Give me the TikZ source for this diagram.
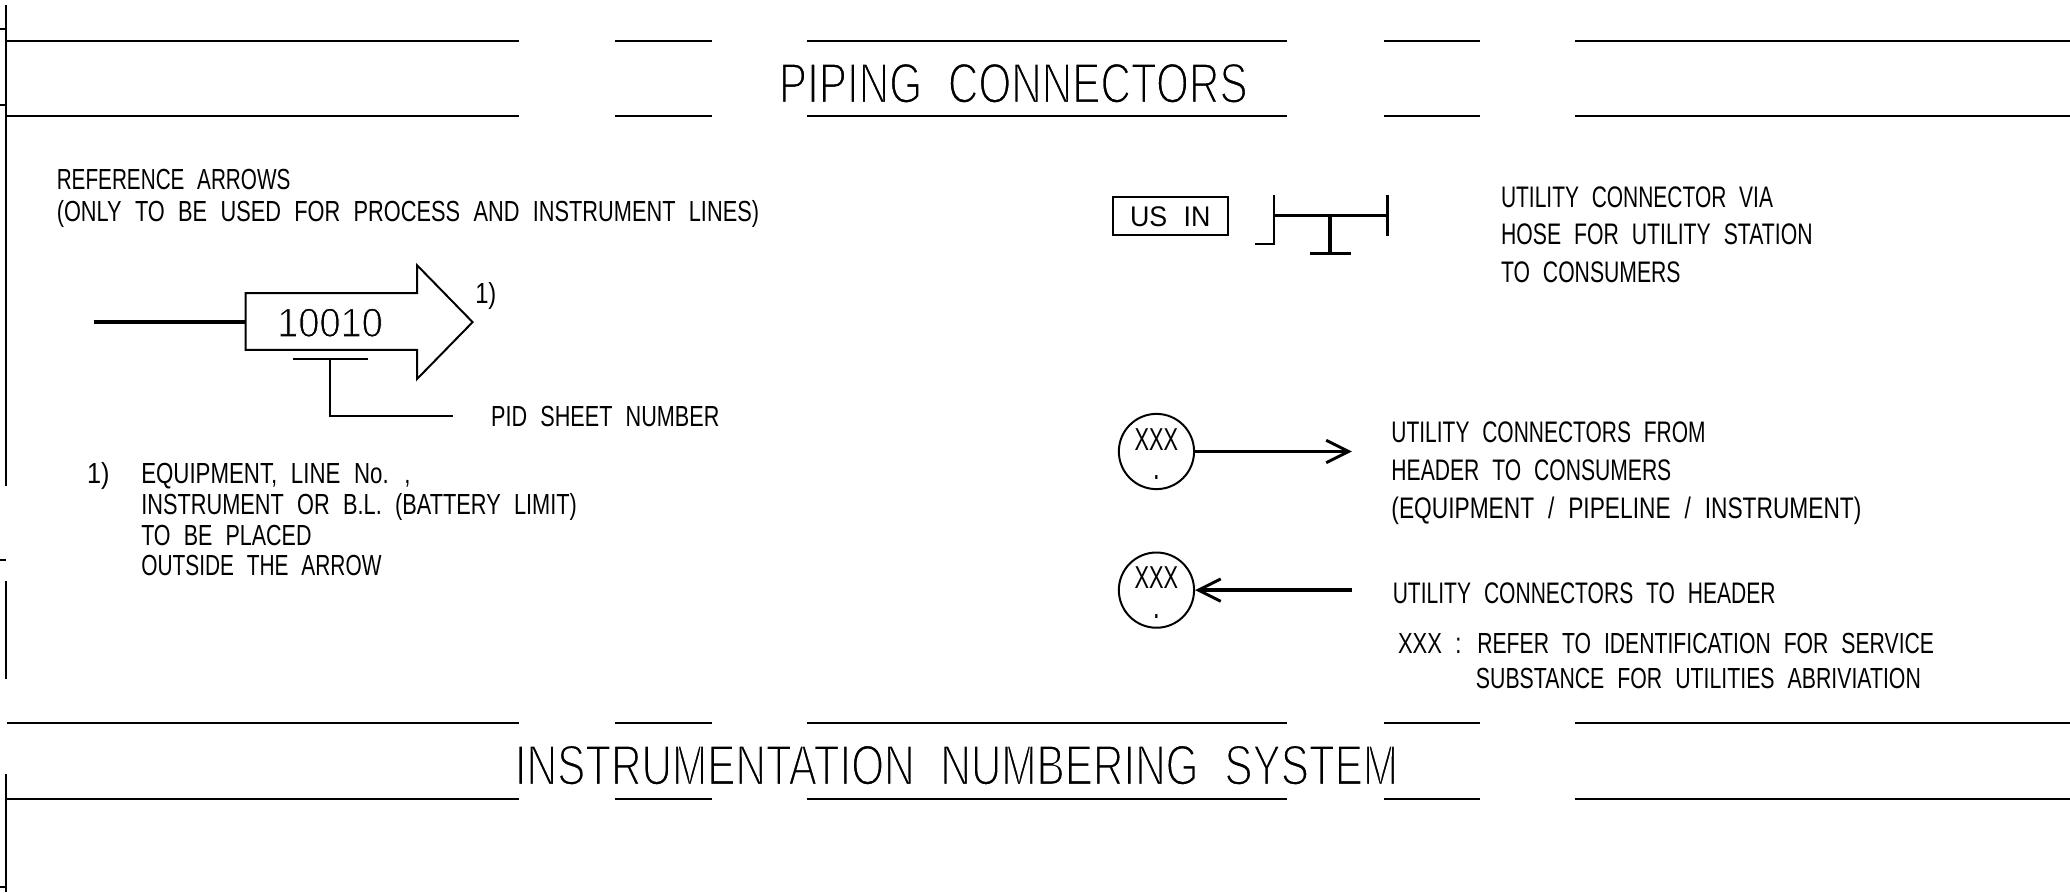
\documentclass[tikz,border=0pt]{standalone}
\usepackage{fontspec}
\usepackage{graphicx}
\usetikzlibrary{arrows.meta}
\setmainfont[WordSpace=2.2]{Liberation Sans}
\tikzset{
  x=1pt,y=-1pt,
  thinline/.style={line width=1.5pt,line cap=butt},
  thickline/.style={line width=2.5pt},
  lbl/.style={anchor=base west,inner sep=0pt,outer sep=0pt},
  barb/.style={-{Straight Barb[length=17pt,width=17pt,line width=2.2pt]}},
  ringnode/.style={circle,draw,line width=1.5pt,minimum size=57pt,inner sep=0pt},
}
\newcommand{\lab}[6][22]{% size, name, x0, x1, yc, text
  \pgfmathsetmacro{\labwd}{#4-#3}%
  \pgfmathsetmacro{\labyb}{#5+0.358*#1}%
  \node[lbl] (#2) at (#3,\labyb) {\fontsize{#1}{#1}\selectfont\resizebox{\labwd pt}{\height}{#6}};
}
\newcommand{\thintext}[2][1.3]{\special{pdf:code 2 Tr 1 1 1 RG #1 w}#2\special{pdf:code 0 Tr 0 0 0 RG 1 w}}
\begin{document}
\begin{tikzpicture}
\useasboundingbox (0,0) rectangle (1568,675.7);
% rule bands
\foreach \yy in {31.06,87.87,547.6,605.2}{
  \foreach \a/\b in {5/393,466/539,611/975,1048/1121,1193/1568}
    \draw[thinline] (\a,\yy) -- (\b,\yy);
}
% left margin
\draw[thinline] (4.5,4) -- (4.5,368);
\draw[thinline] (4.5,440) -- (4.5,514);
\draw[thinline] (4.5,586) -- (4.5,675.7);
\draw[thinline] (0,22) -- (4.5,22);
\draw[thinline] (0,79.5) -- (4.5,79.5);
\draw[thinline] (0,424) -- (4.5,424);
\draw[thinline] (0,672) -- (4.5,672);
% titles
\lab[43]{t1}{590}{945}{62.5}{\thintext{PIPING CONNECTORS}}
\lab[43]{t2}{390}{1059}{579}{\thintext{INSTRUMENTATION NUMBERING SYSTEM}}
% left block
\lab{a1}{43}{220}{136}{REFERENCE ARROWS}
\lab{a2}{43}{575}{160}{(ONLY TO BE USED FOR PROCESS AND INSTRUMENT LINES)}
\draw[thinline,line join=miter] (186,222) -- (316,222) -- (316,201) -- (358,244) -- (316,287) -- (316,265) -- (186,265) -- cycle;
\coordinate (refstart) at (71,244);
\coordinate (refend) at (186,244);
\draw[thickline] (refstart) -- (refend);
\lab[31]{num}{210}{290}{244}{\thintext[0.7]{10010}}
\lab{one}{360}{376}{222}{1)}
\coordinate (ua) at (222,272);
\coordinate (ub) at (279,272);
\coordinate (uc) at (250,272);
\coordinate (lead) at (343,315);
\draw[thinline] (ua) -- (ub);
\draw[thinline] (uc) |- (lead);
\lab{pid}{372}{545}{315}{PID SHEET NUMBER}
\lab{n1}{66}{83}{358}{1)}
\lab{n2}{107}{311}{358}{EQUIPMENT, LINE No. ,}
\lab{n3}{107}{437}{382}{INSTRUMENT OR B.L. (BATTERY LIMIT)}
\lab{n4}{107}{236}{405}{TO BE PLACED}
\lab{n5}{107}{289}{428}{OUTSIDE THE ARROW}
% US IN
\node[draw,line width=1.5pt,minimum width=87pt,minimum height=29pt,inner sep=0pt] (usbox) at (886.5,163.5) {};
\lab[21.5]{us}{856}{917}{164}{US IN}
\draw[line width=1.8pt] (950.5,185) -- (965,185) -- (965,148);
\draw[thickline] (965,163) -- (1051,163);
\draw[line width=1.8pt] (1051,148) -- (1051,178.5);
\draw[thickline] (1007.5,163) -- (1007.5,192);
\draw[thickline] (992,192) -- (1023,192);
\lab[22.5]{u1}{1137}{1343}{149}{UTILITY CONNECTOR VIA}
\lab[22.5]{u2}{1137}{1373}{177}{HOSE FOR UTILITY STATION}
\lab[22.5]{u3}{1137}{1273}{206}{TO CONSUMERS}
% circles
\node[ringnode] (c1) at (876,342) {};
\node[ringnode] (c2) at (876,447) {};
\lab[24]{x1}{859.5}{892.5}{332.5}{XXX}
\lab[24]{x2}{859.5}{892.5}{437.5}{XXX}
\lab[28]{d1}{873.5}{878.5}{353}{.}
\lab[28]{d2}{873.5}{878.5}{458.5}{.}
\coordinate (e1) at (1024,342);
\coordinate (e2) at (1024,447);
\draw[thickline,barb] (c1.east) -- (e1);
\draw[thickline,barb] (e2) -- (c2.east);
\lab[22.5]{v1}{1054}{1292}{327}{UTILITY CONNECTORS FROM}
\lab[22.5]{v2}{1054}{1266}{356}{HEADER TO CONSUMERS}
\lab[22.5]{v3}{1054}{1410}{385}{(EQUIPMENT / PIPELINE / INSTRUMENT)}
\lab[22.5]{v4}{1055}{1345}{449}{UTILITY CONNECTORS TO HEADER}
\lab[22]{v5a}{1059}{1107}{487.5}{XXX :}
\lab[22]{v5b}{1119}{1465}{487.5}{REFER TO IDENTIFICATION FOR SERVICE}
\lab[22]{v6}{1118}{1455}{513.5}{SUBSTANCE FOR UTILITIES ABRIVIATION}
\end{tikzpicture}
\end{document}
